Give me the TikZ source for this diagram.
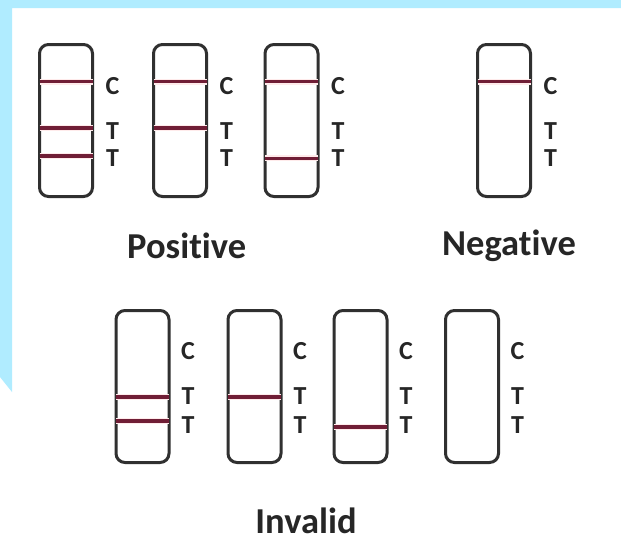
\documentclass[tikz,border=0pt]{standalone}
\usepackage{fontspec}
\setmainfont{Carlito}[Ligatures=NoCommon]
\usetikzlibrary{calc}

\definecolor{skyblue}{RGB}{176,236,255}
\definecolor{bandred}{RGB}{112,30,54}
\definecolor{stripgray}{RGB}{48,48,48}
\definecolor{textgray}{RGB}{38,38,38}

\tikzset{
  strip/.style={draw=stripgray,rectangle,minimum width=53pt,minimum height=152pt,rounded corners=9pt,line width=3pt,outer sep=0pt},
  band/.style={draw=bandred,line width=3.5pt,preaction={draw=red!8,line width=6pt}},
  letter/.style={text=textgray,inner sep=0pt,font=\bfseries\fontsize{26}{28}\selectfont},
  title/.style={text=textgray,inner sep=0pt,anchor=base,font=\bfseries\fontsize{36.5}{40}\selectfont}
}

\begin{document}
\begin{tikzpicture}[x=1pt,y=-1pt]
\useasboundingbox (0,0) rectangle (621,544);
\fill[white] (0,0) rectangle (621,544);
\fill[skyblue] (0,0) -- (621,0) -- (621,8) -- (12,8) -- (12,392) -- (0,377) -- cycle;

% top row
\node[strip] (pos1) at (66,120.5) {};
\node[strip] (pos2) at (180,120.5) {};
\node[strip] (pos3) at (291.5,120.5) {};
\node[strip] (neg) at (504,120.5) {};

% bottom row
\node[strip] (inv1) at (142.5,386.5) {};
\node[strip] (inv2) at (254.5,386.5) {};
\node[strip] (inv3) at (360.5,386.5) {};
\node[strip] (inv4) at (472,386.5) {};

% C and T marks beside each strip
\foreach \s in {pos1,pos2,pos3,neg}{
  \node[letter] (\s-c) at ($(\s.east)+(20,-34.5)$) {C};
  \node[letter] (\s-t1) at ($(\s.east)+(20,10.5)$) {T};
  \node[letter] (\s-t2) at ($(\s.east)+(20,37.5)$) {T};
}
\foreach \s in {inv1,inv2,inv3,inv4}{
  \node[letter] (\s-c) at ($(\s.east)+(19,-35.5)$) {C};
  \node[letter] (\s-t1) at ($(\s.east)+(19,9.5)$) {T};
  \node[letter] (\s-t2) at ($(\s.east)+(19,38.5)$) {T};
}

% control lines
\foreach \s in {pos1,pos2,pos3,neg}{
  \draw[band] ($(\s.west)+(0,-39)$) -- ($(\s.east)+(0,-39)$);
}

% test lines
\draw[band] ($(pos1.west)+(0,7.5)$) -- ($(pos1.east)+(0,7.5)$);
\draw[band] ($(pos1.west)+(0,35.5)$) -- ($(pos1.east)+(0,35.5)$);
\draw[band] ($(pos2.west)+(0,7.5)$) -- ($(pos2.east)+(0,7.5)$);
\draw[band] ($(pos3.west)+(0,37.8)$) -- ($(pos3.east)+(0,37.8)$);

\draw[band] ($(inv1.west)+(0,10.5)$) -- ($(inv1.east)+(0,10.5)$);
\draw[band] ($(inv1.west)+(0,34.5)$) -- ($(inv1.east)+(0,34.5)$);
\draw[band] ($(inv2.west)+(0,10.5)$) -- ($(inv2.east)+(0,10.5)$);
\draw[band] ($(inv3.west)+(0,40.5)$) -- ($(inv3.east)+(0,40.5)$);

% captions
\node[title] (positive) at (186.7,258) {Positive};
\node[title] (negative) at (509,255) {Negative};
\node[title] (invalid) at (306,533) {Invalid};

\end{tikzpicture}
\end{document}
